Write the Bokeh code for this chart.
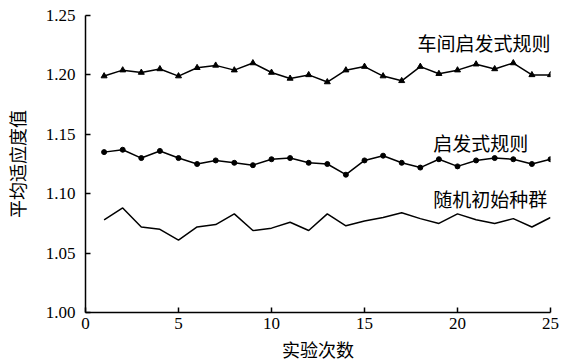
from bokeh.plotting import figure
from bokeh.models import Range1d, FixedTicker, NumeralTickFormatter, Label
from bokeh.embed import file_html
from bokeh.resources import INLINE

runs = list(range(1, 26))
workshop_heuristic = [1.199, 1.204, 1.202, 1.205, 1.199, 1.206, 1.208, 1.204, 1.210, 1.202,
                      1.197, 1.200, 1.194, 1.204, 1.207, 1.199, 1.195, 1.207, 1.201, 1.204,
                      1.209, 1.205, 1.210, 1.200, 1.200]
heuristic = [1.135, 1.137, 1.130, 1.136, 1.130, 1.125, 1.128, 1.126, 1.124, 1.129,
             1.130, 1.126, 1.125, 1.116, 1.128, 1.132, 1.126, 1.122, 1.129, 1.123,
             1.128, 1.130, 1.129, 1.125, 1.129]
random_init = [1.078, 1.088, 1.072, 1.070, 1.061, 1.072, 1.074, 1.083, 1.069, 1.071,
               1.076, 1.069, 1.083, 1.073, 1.077, 1.080, 1.084, 1.079, 1.075, 1.083,
               1.078, 1.075, 1.079, 1.072, 1.080]
series_names = ["车间启发式规则", "启发式规则", "随机初始种群"]
x_ticks = [0, 5, 10, 15, 20, 25]
y_ticks = [1.00, 1.05, 1.10, 1.15, 1.20, 1.25]

CJK = "Noto Sans CJK SC"
SERIF = "Liberation Serif, serif"

p = figure(width=570, height=364, output_backend="svg", toolbar_location=None,
           x_range=Range1d(0, 25), y_range=Range1d(1.0, 1.25),
           min_border_left=82, min_border_right=20, min_border_top=15, min_border_bottom=51)
p.outline_line_color = None
p.xgrid.grid_line_color = None
p.ygrid.grid_line_color = None
p.background_fill_color = "white"
p.border_fill_color = "white"

p.line(runs, workshop_heuristic, line_color="black", line_width=1.5)
p.scatter(runs, workshop_heuristic, marker="triangle", size=6, color="black")
p.line(runs, heuristic, line_color="black", line_width=1.5)
p.scatter(runs, heuristic, marker="circle", size=5, color="black")
p.line(runs, random_init, line_color="black", line_width=1.5)

for ax in (p.xaxis[0], p.yaxis[0]):
    ax.major_tick_in = 5
    ax.major_tick_out = 0
    ax.minor_tick_line_color = None
    ax.axis_line_width = 1.5
    ax.major_tick_line_width = 1.5
    ax.axis_line_color = "black"
    ax.major_tick_line_color = "black"
    ax.major_label_text_font = SERIF
    ax.major_label_text_font_size = "17px"
    ax.major_label_text_font_style = "normal"
    ax.major_label_text_color = "black"
    ax.axis_label_text_font = CJK
    ax.axis_label_text_font_size = "18px"
    ax.axis_label_text_font_style = "normal"
    ax.axis_label_text_color = "black"

p.xaxis.ticker = FixedTicker(ticks=x_ticks)
p.yaxis.ticker = FixedTicker(ticks=y_ticks)
p.yaxis.formatter = NumeralTickFormatter(format="0.00")
p.xaxis.axis_label = "实验次数"
p.yaxis.axis_label = "平均适应度值"
p.xaxis.major_label_standoff = 5
p.yaxis.major_label_standoff = 10
p.xaxis.axis_label_standoff = 4
p.yaxis.axis_label_standoff = 13

label_pos = [(17.85, 1.2273), (18.7, 1.1435), (18.7, 1.0956)]
for name, (lx, ly) in zip(series_names, label_pos):
    p.add_layout(Label(x=lx, y=ly, text=name, text_font=CJK, text_font_size="19px",
                       text_color="black", text_baseline="middle", text_align="left"))

open("out.html", "w").write(file_html(p, INLINE))
